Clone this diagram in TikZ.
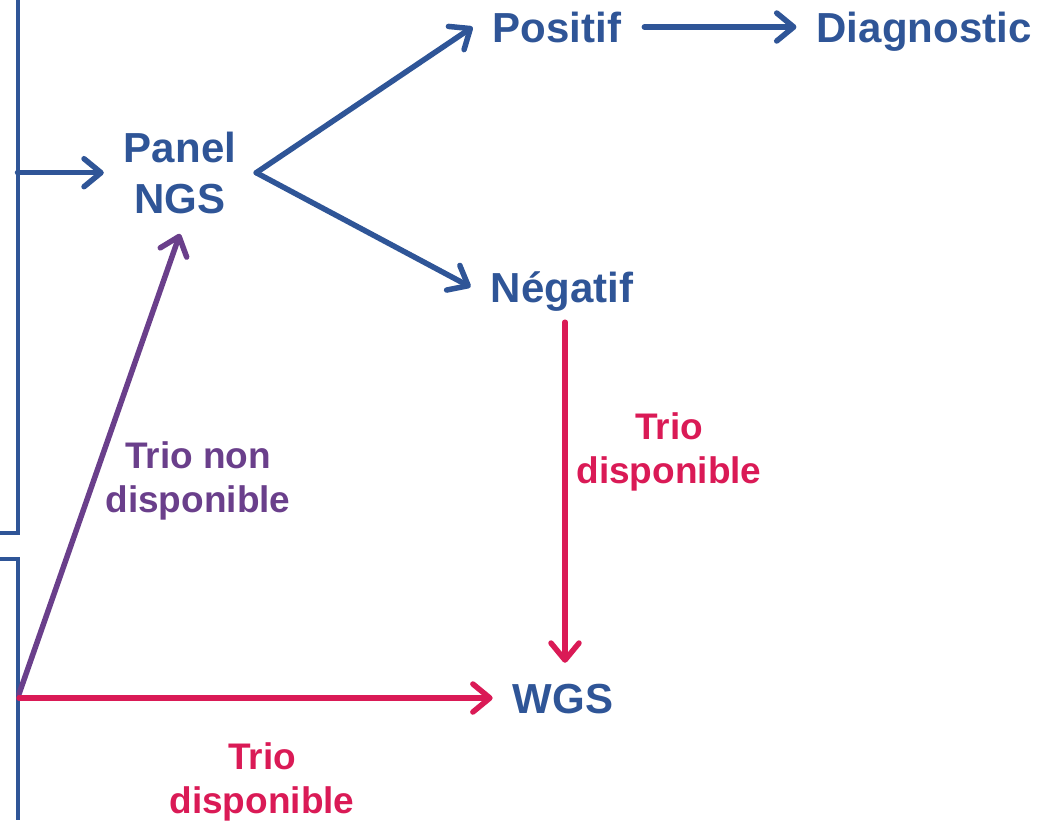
\documentclass[tikz,border=0pt]{standalone}
\usepackage{fontspec}
\setmainfont{Liberation Sans}
\usetikzlibrary{arrows.meta}
\definecolor{nblue}{HTML}{2F5597}
\definecolor{npink}{HTML}{DA1A56}
\definecolor{npurple}{HTML}{6A3F8B}
\begin{document}
\begin{tikzpicture}[x=1pt,y=-1pt,
  basenode/.style={font=\fontsize{42}{51}\selectfont\bfseries, text=nblue, inner sep=20pt},
  mainnode/.style={basenode, text height=30pt, text depth=0pt},
  labelnode/.style={font=\fontsize{37}{44}\selectfont\bfseries, inner sep=0pt, align=center, anchor=north},
  conn/.style={line width=5.5pt, line cap=round, -{Straight Barb[length=17pt,width=28pt,line cap=round,line join=round]}},
  bracket/.style={draw=nblue, line width=4pt}
]
\useasboundingbox (0,0) rectangle (1048,820);

% nodes
\node[basenode, align=center] (panel) at (180,172.7) {Panel\\NGS};
\node[mainnode] (positif) at (557,27) {Positif};
\node[mainnode] (diag) at (924,27) {Diagnostic};
\node[mainnode] (negatif) at (562,287) {Négatif};
\node[mainnode] (wgs) at (563,698) {WGS};

% brackets
\draw[bracket] (17.5,0) -- (17.5,533) -- (0,533);
\draw[bracket] (0,559) -- (17.5,559) -- (17.5,820);
\coordinate (b1) at (17.5,172.7);
\coordinate (b2) at (19,698);
\coordinate (b3) at (19,694);

% connectors
\draw[conn, nblue] (b1) -- (panel.west);
\draw[conn, nblue] (panel.east) -- (positif.west);
\draw[conn, nblue] (panel.east) -- (negatif.west);
\draw[conn, nblue] ([xshift=3pt]positif.east) -- (diag.west);
\draw[conn, npink] ([xshift=3pt]negatif.south) -- ([xshift=3pt]negatif.south |- wgs.north);
\draw[conn, npurple] (b3) -- (panel.south);
\draw[conn, npink] (b2) -- (wgs.west);

% labels
\node[labelnode, text=npurple] (lbl1) at (198,441) {Trio non\\disponible};
\node[labelnode, text=npink] (lbl2) at (669,412) {Trio\\disponible};
\node[labelnode, text=npink] (lbl3) at (262,742) {Trio\\disponible};
\end{tikzpicture}
\end{document}
